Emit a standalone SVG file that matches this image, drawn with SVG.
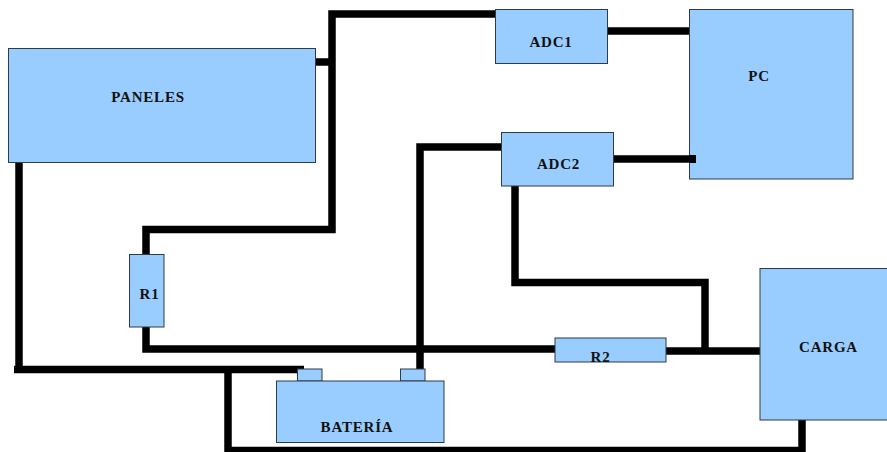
<svg xmlns="http://www.w3.org/2000/svg" width="887" height="452" viewBox="0 0 887 452">
<style>
.n{fill:#99ccff;stroke:#2f3b47;stroke-width:1}
.w{fill:none;stroke:#000;stroke-width:7.5;stroke-linejoin:miter;stroke-linecap:butt}
text{font-family:"Liberation Serif","Times New Roman",serif;font-weight:bold;font-size:15px;letter-spacing:.8px;fill:#111;text-anchor:middle}
</style>
<rect width="887" height="452" fill="#fff"/>
<g id="connectors">
<path class="w" d="M315 62H332"/>
<path class="w" d="M495 14H332V229.500H146V255"/>
<path class="w" d="M146 327V349H555"/>
<path class="w" d="M19 162V369.500"/>
<path class="w" d="M14 369.500H304"/>
<path class="w" d="M228 369.500V450.500H802V420"/>
<path class="w" d="M501 147H420V369"/>
<path class="w" d="M607 31H690"/>
<path class="w" d="M613 159H696"/>
<path class="w" d="M515 186V282.500H705V351"/>
<path class="w" d="M666 351H760"/>
</g>
<g id="paneles"><rect class="n" x="8.500" y="48.500" width="307" height="114"/><text x="148" y="102">PANELES</text></g>
<g id="adc1"><rect class="n" x="495.500" y="9.500" width="112" height="54"/><text x="551" y="47">ADC1</text></g>
<g id="adc2"><rect class="n" x="501.500" y="132.500" width="112" height="53.500"/><text x="558.500" y="169">ADC2</text></g>
<g id="pc"><rect class="n" x="689.500" y="9.500" width="163.500" height="169.500"/><path d="M689 155H696V163H689Z"/><text x="759" y="81">PC</text></g>
<g id="r1"><rect class="n" x="129.500" y="254.500" width="34.500" height="72.500"/><text x="149.500" y="299">R1</text></g>
<g id="r2"><rect class="n" x="555" y="338" width="111" height="24"/><text x="600.500" y="362">R2</text></g>
<g id="carga"><rect class="n" x="760" y="268.500" width="130" height="151.500"/><text x="828.500" y="352">CARGA</text></g>
<g id="bateria"><rect class="n" x="297.500" y="369" width="24.500" height="12"/><rect class="n" x="400.500" y="369" width="24.500" height="12"/><rect class="n" x="276.500" y="381" width="167.500" height="61.500"/><text x="357" y="432">BATERÍA</text></g>
</svg>
